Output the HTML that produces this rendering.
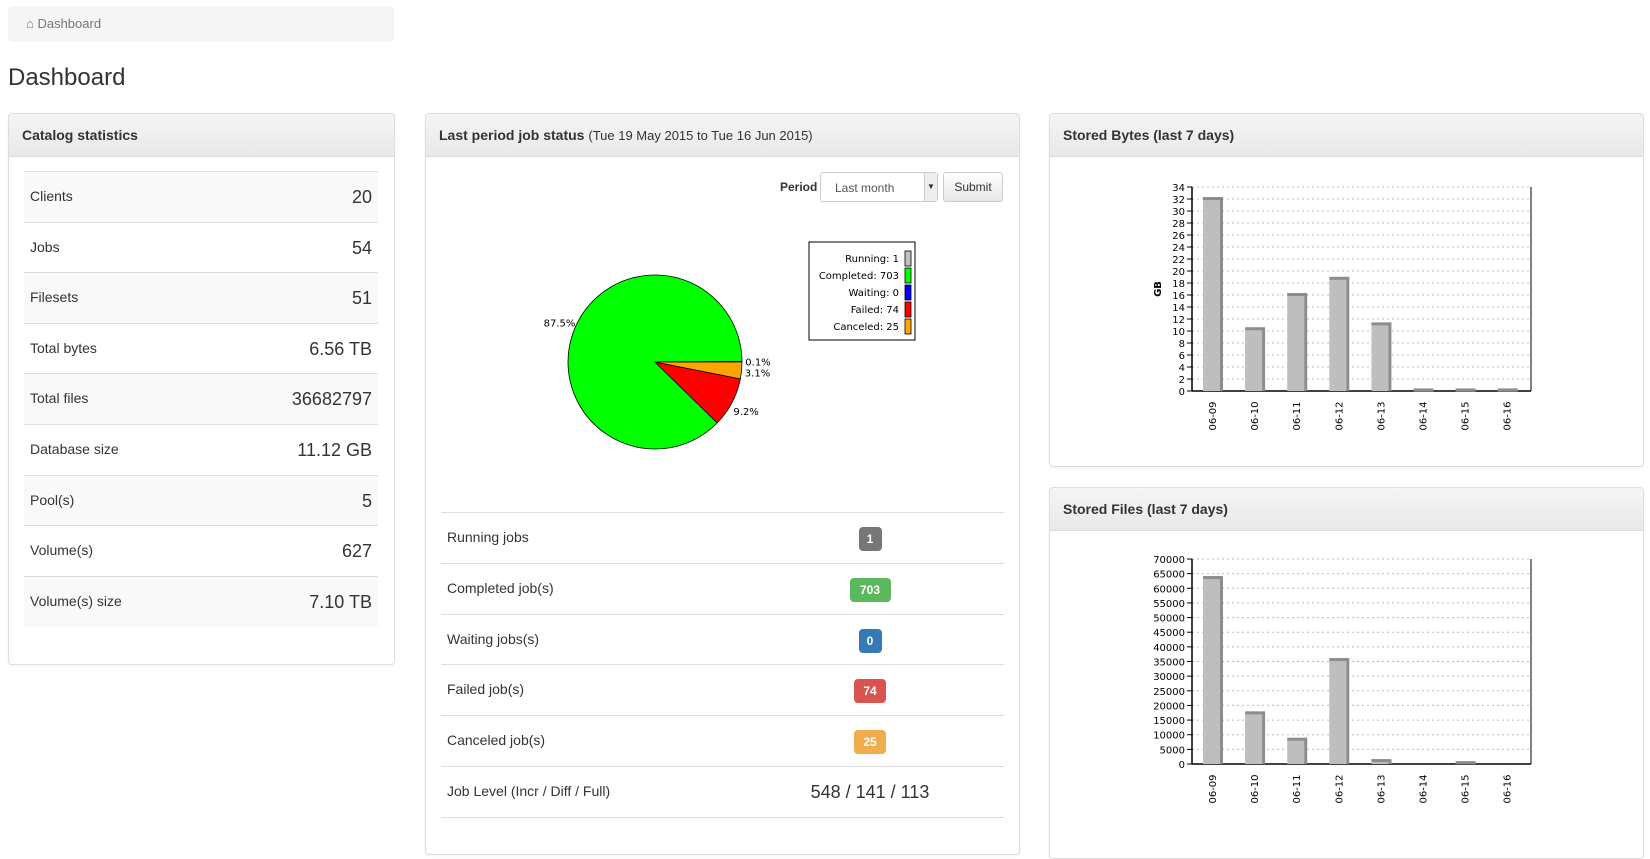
<!DOCTYPE html>
<html><head><meta charset="utf-8">
<style>
body{margin:0;width:1650px;height:831px;overflow:hidden;background:#fff;font-family:"Liberation Sans",sans-serif;color:#333;position:relative}
.abs{position:absolute}
.panel{position:absolute;border:1px solid #ddd;border-radius:4px;background:#fff;box-shadow:0 1px 2px rgba(0,0,0,.05)}
.ph{position:absolute;left:0;right:0;top:0;height:42px;background:linear-gradient(#f5f5f5,#e8e8e8);border-bottom:1px solid #ddd;border-radius:3px 3px 0 0}
.ph span{position:absolute;left:13px;top:13px;font-size:14px;font-weight:bold;color:#333}
.row{position:absolute;border-top:1px solid #ddd;font-size:14px}
.row .l{position:absolute;left:6px;top:16px}
.row .v{position:absolute;right:6px;top:15px;font-size:18px}
.badge{position:absolute;height:24px;line-height:24px;border-radius:4px;color:#fff;font-weight:bold;font-size:12px;text-align:center}
svg text{font-family:"DejaVu Sans",sans-serif}
</style></head><body>
<div class="abs" style="left:8px;top:6px;width:386px;height:36px;background:#f5f5f5;border-radius:4px">
 <span style="position:absolute;left:18px;top:10px;font-size:13px;color:#777">&#8962; Dashboard</span>
</div>
<div class="abs" style="left:8px;top:64px;font-size:24px;color:#333">Dashboard</div>

<div class="panel" style="left:8px;top:113px;width:385px;height:550px">
 <div class="ph"><span>Catalog statistics</span></div>
 <div id="stats"></div>
</div>

<div class="panel" style="left:425px;top:113px;width:593px;height:740px">
 <div class="ph"><span>Last period job status <span style="position:static;font-weight:normal;font-size:13px">(Tue 19 May 2015 to Tue 16 Jun 2015)</span></span></div>
 <div class="abs" style="left:354px;top:66px;font-size:12px;font-weight:bold">Period</div>
 <div class="abs" style="left:394px;top:58px;width:116px;height:28px;border:1px solid #ccc;border-radius:3px;font-size:12px">
  <span style="position:absolute;left:14px;top:8px;color:#555">Last month</span>
  <span style="position:absolute;right:0;top:0;width:12px;height:28px;border-left:1px solid #ccc;background:#eee;font-size:8px;text-align:center;line-height:28px">&#9660;</span>
 </div>
 <div class="abs" style="left:517px;top:58px;width:58px;height:28px;border:1px solid #ccc;border-radius:3px;background:linear-gradient(#fff,#e6e6e6);font-size:12px;text-align:center;line-height:28px">Submit</div>
 <svg class="abs" style="left:0;top:0" width="593" height="380" id="pie"></svg>
 <div id="jobrows"></div>
</div>

<div class="panel" style="left:1049px;top:113px;width:593px;height:352px">
 <div class="ph"><span>Stored Bytes (last 7 days)</span></div>
</div>
<div class="panel" style="left:1049px;top:487px;width:593px;height:370px">
 <div class="ph"><span>Stored Files (last 7 days)</span></div>
</div>
<svg class="abs" style="left:0;top:0;pointer-events:none" width="1650" height="831" id="bars"></svg>

<script>
const statLabels=["Clients","Jobs","Filesets","Total bytes","Total files","Database size","Pool(s)","Volume(s)","Volume(s) size"];
const statValues=["20","54","51","6.56 TB","36682797","11.12 GB","5","627","7.10 TB"];
const jobLabels=["Running jobs","Completed job(s)","Waiting jobs(s)","Failed job(s)","Canceled job(s)"];
const jobCounts=[1,703,0,74,25];
const jobBadgeColors=["#777","#5cb85c","#337ab7","#d9534f","#f0ad4e"];
const pieNames=["Running","Completed","Waiting","Failed","Canceled"];
const pieColors=["#c0c0c0","#00ff00","#0000ff","#ff0000","#ffa500"];
const jobLevel="548 / 141 / 113";
const days=["06-09","06-10","06-11","06-12","06-13","06-14","06-15","06-16"];
const bytesGB=[32,10.3,16,18.7,11.1,0.1,0.1,0.1];
const bytesTicks=[0,2,4,6,8,10,12,14,16,18,20,22,24,26,28,30,32,34];
const filesCount=[63500,17300,8300,35500,1000,0,300,0];
const filesTicks=[0,5000,10000,15000,20000,25000,30000,35000,40000,45000,50000,55000,60000,65000,70000];

const NS="http://www.w3.org/2000/svg";
function mk(tag,attrs,parent,txt){const e=document.createElementNS(NS,tag);for(const k in attrs)e.setAttribute(k,attrs[k]);if(txt!==undefined)e.textContent=txt;parent.appendChild(e);return e;}

// stats table
const st=document.getElementById('stats');
statLabels.forEach((l,i)=>{
 const r=document.createElement('div');r.className='row';
 
 
 r.style.cssText=`left:15px;width:354px;top:${57+i*50.6}px;height:50px;background:${i%2==0?'#f9f9f9':'#fff'}`;
 r.innerHTML=`<span class="l">${l}</span><span class="v">${statValues[i]}</span>`;
 st.appendChild(r);
});
// job rows
const jr=document.getElementById('jobrows');
const bw={1:1};
jobLabels.forEach((l,i)=>{
 const r=document.createElement('div');r.className='row';
 
 
 r.style.cssText=`left:15px;width:563px;top:${398+i*50.8}px;height:50px`;
 const t=String(jobCounts[i]);const w=t.length==1?23:(t.length==2?32:41);
 r.innerHTML=`<span class="l">${l}</span>`;
 const b=document.createElement('span');b.className='badge';
 
 
 b.style.cssText=`left:${429-w/2}px;width:${w}px;top:14px;background:${jobBadgeColors[i]}`;b.textContent=t;r.appendChild(b);
 jr.appendChild(r);
});
{const r=document.createElement('div');r.className='row';
 
 
 r.style.cssText=`left:15px;width:563px;top:${398+5*50.8}px;height:50px;border-bottom:1px solid #ddd`;
 r.innerHTML=`<span class="l">Job Level (Incr / Diff / Full)</span><span style="position:absolute;left:429px;transform:translateX(-50%);top:15px;font-size:18px;white-space:nowrap">${jobLevel}</span>`;
 jr.appendChild(r);}

// pie
const pie=document.getElementById('pie');
const cx=229,cy=248,R=87;const tot=jobCounts.reduce((a,b)=>a+b,0);
let ang=0;
jobCounts.forEach((v,i)=>{
 const a0=ang,a1=ang+v/tot*2*Math.PI;ang=a1;
 if(v>0){
  const x0=cx+R*Math.cos(a0),y0=cy-R*Math.sin(a0),x1=cx+R*Math.cos(a1),y1=cy-R*Math.sin(a1);
  const large=(a1-a0)>Math.PI?1:0;
  const p=mk('path',{d:`M${cx},${cy}L${x0},${y0}A${R},${R} 0 ${large} 0 ${x1},${y1}Z`,fill:pieColors[i],stroke:'#000','stroke-width':0.8},pie);
  
  
  const m=(a0+a1)/2;const pct=(v/tot*100).toFixed(1)+'%';
  const t=mk('text',{x:cx+103*Math.cos(m),y:cy-105*Math.sin(m)+4,'font-size':10,'text-anchor':'middle',fill:'#000'},pie,pct);
  
  
 }
});
const lg=mk('g',{},pie);


mk('rect',{x:383,y:128,width:106,height:98,fill:'#fff',stroke:'#000'},lg);
pieNames.forEach((n,i)=>{
 const y=144+i*17;
 mk('text',{x:473,y:y+4,'font-size':10,'text-anchor':'end','font-family':'DejaVu Sans Mono, monospace'},lg,n+': '+jobCounts[i]);
 mk('rect',{x:479,y:y-7,width:6,height:15,fill:pieColors[i],stroke:'#000','stroke-width':0.8},lg);
});

// bar charts
const bars=document.getElementById('bars');
function barChart(name,vals,ticks,y0,yTop,title){
 const g=mk('g',{},bars);
 
 
 const xL=1192,xR=1531,max=ticks[ticks.length-1];
 const ys=v=>y0-(v/max)*(y0-yTop);
 const step=42.1,x0=1213;
 ticks.forEach(t=>{
  const y=ys(t);
  if(t>0)mk('line',{x1:xL,x2:xR,y1:y,y2:y,stroke:'#bbb','stroke-dasharray':'2,3'},g);
  mk('line',{x1:xL-5,x2:xL,y1:y,y2:y,stroke:'#000'},g);
  mk('text',{x:xL-7,y:y+4,'font-size':10,'text-anchor':'end'},g,String(t));
 });
 mk('line',{x1:xL,x2:xL,y1:yTop,y2:y0,stroke:'#000','stroke-width':1.5},g);
 mk('line',{x1:xR,x2:xR,y1:yTop,y2:y0,stroke:'#000'},g);
 mk('line',{x1:xL,x2:xR,y1:y0,y2:y0,stroke:'#000','stroke-width':1.5},g);
 vals.forEach((v,i)=>{
  const cxb=x0+i*step,y=ys(v),h=y0-y;
  const b=mk('rect',{x:cxb-10,y:y,width:17,height:h,fill:'#bebebe'},g);
  
  
  if(v>0){mk('rect',{x:cxb+7,y:y,width:3,height:h,fill:'#8c8c8c'},g);
   mk('rect',{x:cxb-10,y:y-2,width:20,height:3,fill:'#8c8c8c'},g);}
  mk('text',{x:0,y:0,'font-size':10,'text-anchor':'middle',transform:`translate(${cxb+3},${y0+25}) rotate(-90)`},g,days[i]);
 });
 if(title){const t=mk('text',{x:0,y:0,'font-size':10,'font-weight':'bold','text-anchor':'middle',transform:`translate(1161,${(y0+yTop)/2}) rotate(-90)`},g,title);
  
  }
}
barChart('stored-bytes-chart',bytesGB,bytesTicks,391,187,'GB');
barChart('stored-files-chart',filesCount,filesTicks,764,559,'');
</script>
</body></html>
